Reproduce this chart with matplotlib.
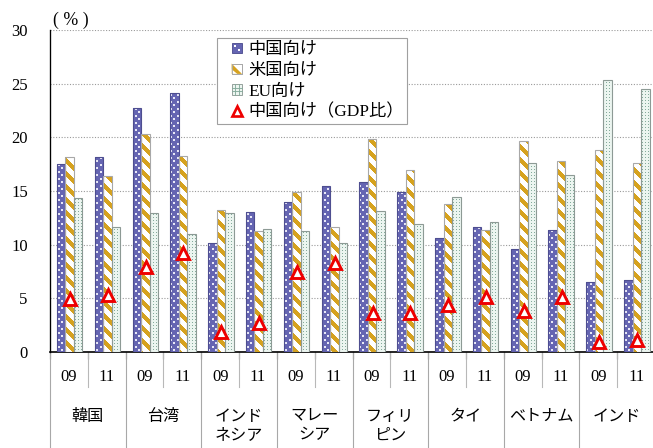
import matplotlib
matplotlib.use('Agg')
import numpy as np
import matplotlib.pyplot as plt
from matplotlib.patches import Rectangle, PathPatch, Patch
from matplotlib.lines import Line2D
from matplotlib.path import Path
from matplotlib.legend_handler import HandlerBase
import matplotlib.transforms as mtransforms
from matplotlib.colors import to_rgb

countries = ['韓国', '台湾', 'インド\nネシア', 'マレー\nシア', 'フィリ\nピン', 'タイ', 'ベトナム', 'インド']
years = ['09', '11']
china = [17.5, 18.2, 22.7, 24.1, 10.2, 13.05, 14.0, 15.5, 15.85, 14.95, 10.6, 11.65, 9.6, 11.4, 6.55, 6.75]
usa = [18.2, 16.4, 20.3, 18.3, 13.2, 11.3, 14.9, 11.65, 19.8, 16.95, 13.8, 11.35, 19.65, 17.8, 18.8, 17.65]
eu = [14.35, 11.65, 12.95, 11.0, 12.95, 11.5, 11.3, 10.15, 13.15, 11.95, 14.45, 12.15, 17.6, 16.5, 25.35, 24.5]
china_gdp = [4.9, 5.35, 7.9, 9.2, 1.9, 2.7, 7.45, 8.3, 3.65, 3.6, 4.4, 5.1, 3.8, 5.1, 0.95, 1.15]
series_names = ['中国向け', '米国向け', 'EU向け', '中国向け（GDP比）']

FAM = ['Liberation Serif', 'Noto Sans CJK JP']
plt.rcParams['font.family'] = FAM

DPI = 80
FW, FH = 653, 448
AX_L, AX_TOP, AX_W, AX_H = 50, 30, 605, 322
fig = plt.figure(figsize=(FW / DPI, FH / DPI), dpi=DPI)
ax = fig.add_axes([AX_L / FW, (FH - AX_TOP - AX_H) / FH, AX_W / FW, AX_H / FH])

n = len(china)
xs = np.arange(n)
w = 0.225
shift = 0.02
XL = (-0.5, n - 0.5)
YL = (0, 30)

C_FACE, C_DOT, C_EDGE = '#6565b2', '#e8e8f6', '#4e4e90'
U_FACE, U_STRIPE, U_EDGE = '#ffffff', '#d6a21e', '#a8a8a8'
E_FACE, E_DOT, E_EDGE = '#ecf5f0', '#84aa9b', '#8d9a95'

# ---- pixel textures (styling only) ----
yy, xx = np.mgrid[0:AX_H, 0:AX_W]


def tex(base, accent, mask):
    img = np.empty((AX_H, AX_W, 3))
    img[:] = to_rgb(base)
    img[mask] = to_rgb(accent)
    return img


tex_china = tex(C_FACE, C_DOT,
                ((xx % 7 >= 1) & (xx % 7 <= 2) & (yy % 7 >= 1) & (yy % 7 <= 2)) |
                ((xx % 7 >= 4) & (xx % 7 <= 5) & (yy % 7 >= 4) & (yy % 7 <= 5)))
tex_usa = tex(U_FACE, U_STRIPE, ((xx - yy) % 13) < 6)
tex_eu = tex(E_FACE, E_DOT, (xx % 3 == 1) & (yy % 3 == 1))


def tbar(xpos, h, img, edge):
    bars = ax.bar(xpos, h, w, facecolor='none', edgecolor=edge, linewidth=1.0, zorder=4)
    paths = [p.get_path().transformed(p.get_patch_transform()) for p in bars]
    clip = PathPatch(Path.make_compound_path(*paths), transform=ax.transData,
                     facecolor='none', edgecolor='none')
    im = ax.imshow(img, extent=(XL[0], XL[1], YL[0], YL[1]), origin='upper',
                   aspect='auto', interpolation='nearest', zorder=3)
    im.set_clip_path(clip)
    return bars


tbar(xs - w + shift, china, tex_china, C_EDGE)
tbar(xs + shift, usa, tex_usa, U_EDGE)
tbar(xs + w + shift, eu, tex_eu, E_EDGE)

ax.plot(xs + 0.03, china_gdp, linestyle='none', marker='^', markersize=10.5,
        markerfacecolor='white', markeredgecolor='#ee0000', markeredgewidth=2.6, zorder=6,
        clip_on=False)

ax.set_xlim(*XL)
ax.set_ylim(*YL)
ax.set_yticks(range(0, 31, 5))
ax.yaxis.grid(True, linestyle=(0, (1, 1.5)), color='#9a9a9a', linewidth=1.0)
ax.set_axisbelow(True)
for s in ['top', 'right']:
    ax.spines[s].set_visible(False)
ax.spines['left'].set_color('black')
ax.spines['bottom'].set_color('black')
ax.spines['bottom'].set_linewidth(1.5)
ax.spines['left'].set_linewidth(1.2)
ax.tick_params(axis='y', length=0, pad=20, labelsize=15)
ax.set_xticks(np.arange(n + 1) - 0.5)
ax.set_xticklabels([])
ax.tick_params(axis='x', length=6, width=1, direction='out', color='#333333')

tr = mtransforms.blended_transform_factory(ax.transData, ax.transAxes)


def fy(px):
    return (AX_TOP + AX_H - px) / AX_H


for i in range(n):
    ax.text(i, fy(376.7), years[i % 2], transform=tr, ha='center', va='center',
            fontsize=15, clip_on=False)
for k in range(len(countries)):
    ax.plot([2 * k + 0.5] * 2, [0, fy(386.7)], transform=tr, color='#b8b8b8',
            linewidth=1, clip_on=False)
    ax.plot([2 * k - 0.5] * 2, [0, fy(460)], transform=tr, color='#a8a8a8',
            linewidth=1, clip_on=False)
    for j, ln in enumerate(countries[k].split('\n')):
        ax.text(2 * k + 0.5, fy(416.7 + j * 18.5), ln, transform=tr, ha='center',
                va='center', fontsize=14.5, clip_on=False)

fig.text(71 / FW, 1 - 20 / FH, '( % )', ha='center', va='center', fontsize=16)


class SqHandler(HandlerBase):
    def __init__(self, kind):
        super().__init__()
        self.kind = kind

    def create_artists(self, legend, orig_handle, xdescent, ydescent, width, height,
                       fontsize, trans):
        s = 0.6 * fontsize
        x0 = -xdescent + width - s
        y0 = -ydescent + (height - s) / 2
        arts = []
        if self.kind == 'china':
            arts.append(Rectangle((x0, y0), s, s, facecolor=C_FACE, edgecolor=C_EDGE, lw=0.8))
            d = s * 0.2
            arts.append(Rectangle((x0 + s * 0.2, y0 + s * 0.6), d, d, facecolor='white', lw=0))
            arts.append(Rectangle((x0 + s * 0.6, y0 + s * 0.2), d, d, facecolor='white', lw=0))
        elif self.kind == 'usa':
            arts.append(Rectangle((x0, y0), s, s, facecolor='white', edgecolor=U_EDGE, lw=0.8))
            arts.append(plt.Polygon([(x0, y0), (x0 + s, y0), (x0, y0 + s)], closed=True,
                                    facecolor=U_STRIPE, lw=0))
            arts.append(plt.Polygon([(x0, y0 + s * 0.45), (x0 + s * 0.55, y0), (x0, y0)],
                                    closed=True, facecolor='white', lw=0))
            arts.append(Rectangle((x0, y0), s, s, facecolor='none', edgecolor=U_EDGE, lw=0.8))
        elif self.kind == 'eu':
            arts.append(Rectangle((x0, y0), s, s, facecolor=E_FACE, edgecolor=E_EDGE, lw=0.8))
            for a in (1 / 3, 2 / 3):
                arts.append(Line2D([x0 + s * a] * 2, [y0, y0 + s], color=E_DOT, lw=0.8))
                arts.append(Line2D([x0, x0 + s], [y0 + s * a] * 2, color=E_DOT, lw=0.8))
        else:
            arts.append(Line2D([x0 + s / 2], [y0 + s / 2 - 0.5], linestyle='none', marker='^',
                               markersize=9, markerfacecolor='white',
                               markeredgecolor='#ee0000', markeredgewidth=2.4))
        for a in arts:
            a.set_transform(trans)
        return arts


kinds = ['china', 'usa', 'eu', 'tri']
handles = [Patch(label=nm) for nm in series_names]
leg = ax.legend(handles, series_names, loc='upper left', bbox_to_anchor=(0.276, 0.974),
                fontsize=15.5, frameon=True, fancybox=False, framealpha=1,
                edgecolor='#a0a0a0', handlelength=1.25, handleheight=0.7,
                handletextpad=0.35, labelspacing=0.28, borderpad=0.2,
                borderaxespad=0,
                handler_map={h: SqHandler(k) for h, k in zip(handles, kinds)})
leg.get_frame().set_linewidth(1)
leg.set_zorder(10)

fig.savefig('out.png', dpi=DPI)
